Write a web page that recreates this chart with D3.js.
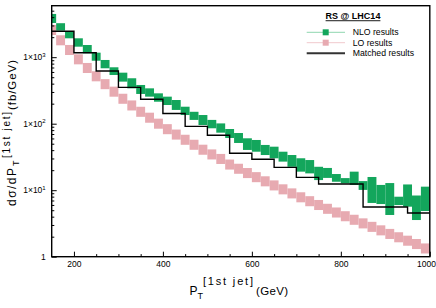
<!DOCTYPE html>
<html><head><meta charset="utf-8">
<script src="https://cdn.jsdelivr.net/npm/d3@7"></script>
<style>body{margin:0;background:#fff;overflow:hidden}svg{display:block}text{font-family:"Liberation Sans",Arial,sans-serif;fill:#000}</style>
</head><body><svg width="436" height="308"></svg>
<script>
// ---- data ----
const binCenters = [150,170,190,210,230,250,270,290,310,330,350,370,390,410,430,450,470,490,510,530,550,570,590,610,630,650,670,690,710,730,750,770,790,810,830,850,870,890,910,930,950,970,990];
const binHalfWidth = 10;
const nloLow  = [3266,2512,1923,1439,1146,885,681,540,429,340,280,255,214,191,161,135,114,95.5,85.3,73.3,61.0,51.3,40.3,37.9,33.8,30.2,26.9,22.5,19.0,17.9,14.2,15.3,13.4,12.7,12.0,10.1,6.43,6.19,4.24,5.98,5.65,3.56,4.86];
const nloHigh = [4467,3243,2415,1923,1524,1169,908,705,585,482,382,340,286,255,227,180,151,135,114,101,83.2,72.4,60.3,56.9,47.9,45.1,37.9,33.8,30.2,28.4,22.5,21.6,17.5,15.2,19.0,13.7,15.8,12.0,12.8,7.98,12.2,8.32,11.3];
const loVals  = [2566,1795,1283,929,688,516,393,303,237,188,151,123,100,82.7,68.6,57.3,48.2,40.6,34.5,29.5,24.3,21.0,18.1,15.7,13.6,11.8,10.3,8.95,7.82,6.83,5.99,5.25,4.62,4.06,3.59,3.17,2.81,2.49,2.20,1.96,1.74,1.55,1.33];
const loRelErr = 0.19;
const matchedEdges = [150,200,250,300,350,400,450,500,550,600,650,700,750,800,850,900,950,1000];
const matchedVals  = [2450,1169,620,352,233,142,91,67,35.9,29.2,22,15.6,12.4,12.4,5.6,5.6,4.55];
const xMajorTicks = [200,400,600,800,1000];
const xMinorTicks = [250,300,350,450,500,550,650,700,750,850,900,950];
const yMajorTicks = [1,10,100,1000];
const yTickExponents = [null,1,2,3];
const legendLabels = ["NLO results","LO results","Matched results"];
const legendTitle = "RS @ LHC14";

// ---- layout ----
const L = 51.7, R = 429.8, T = 5.7, B = 256.7;
const green = "#13a65c", pink = "#e7aab1";
const svg = d3.select("svg");
const x = d3.scaleLinear().domain([150,1000]).range([L,R]);
const y = d3.scaleLog().domain([1,5945]).range([B,T]);

svg.append("clipPath").attr("id","clip").append("rect")
  .attr("x",L).attr("y",T).attr("width",R-L).attr("height",B-T);
const plot = svg.append("g").attr("clip-path","url(#clip)");

// LO boxes
plot.append("g").selectAll("rect").data(binCenters).join("rect")
  .attr("x",d=>x(d-binHalfWidth)).attr("width",d=>x(d+binHalfWidth)-x(d-binHalfWidth))
  .attr("y",(d,i)=>y(loVals[i]*(1+loRelErr)))
  .attr("height",(d,i)=>y(loVals[i]/(1+loRelErr))-y(loVals[i]*(1+loRelErr)))
  .attr("fill",pink);
// NLO boxes
plot.append("g").selectAll("rect").data(binCenters).join("rect")
  .attr("x",d=>x(d-binHalfWidth)).attr("width",d=>x(d+binHalfWidth)-x(d-binHalfWidth))
  .attr("y",(d,i)=>y(nloHigh[i]))
  .attr("height",(d,i)=>y(nloLow[i])-y(nloHigh[i]))
  .attr("fill",green);
// matched histogram
const pts = matchedVals.map((v,i)=>[matchedEdges[i],v]);
pts.push([matchedEdges[matchedEdges.length-1], matchedVals[matchedVals.length-1]]);
plot.append("path").datum(pts)
  .attr("d",d3.line().x(d=>x(d[0])).y(d=>y(d[1])).curve(d3.curveStepAfter))
  .attr("fill","none").attr("stroke","#000").attr("stroke-width",1.4);

// axes
const gx = svg.append("g").attr("transform",`translate(0,${B})`);
gx.call(d3.axisBottom(x).tickValues(xMajorTicks).tickSize(-5).tickSizeOuter(0).tickPadding(4.5).tickFormat(d3.format("d")));
const gxm = svg.append("g").attr("transform",`translate(0,${B})`);
gxm.call(d3.axisBottom(x).tickValues(xMinorTicks).tickSize(-2.6).tickSizeOuter(0).tickFormat(""));
gx.selectAll("text").attr("font-size",8.5).attr("font-family","Liberation Sans, Arial, sans-serif");
// keep the last label inside the window (it sits at the right edge)
gx.selectAll(".tick").filter(d=>d===1000).select("text").attr("text-anchor","end").attr("x",436-x(1000)-0.5);

const gy = svg.append("g").attr("transform",`translate(${L},0)`);
gy.call(d3.axisLeft(y).tickValues(yMajorTicks).tickSize(-5).tickSizeOuter(0).tickPadding(6).tickFormat(""));
const minorY = [];
yMajorTicks.forEach(d=>{ for(let k=2;k<=9;k++){ if(d*k<5945) minorY.push(d*k);} });
const gym = svg.append("g").attr("transform",`translate(${L},0)`);
gym.call(d3.axisLeft(y).tickValues(minorY).tickSize(-2.6).tickSizeOuter(0).tickFormat(""));
[gx,gxm,gy,gym].forEach(g=>{g.select(".domain").remove(); g.selectAll("line").attr("stroke","#000").attr("stroke-width",1);});
gy.selectAll(".tick").each(function(d,i){
  const t = d3.select(this).append("text").attr("x",-6).attr("dy","0.32em")
    .attr("text-anchor","end").attr("font-size",8.5).attr("fill","#000");
  const e = yTickExponents[yMajorTicks.indexOf(d)];
  if(e===null){ t.text("1"); }
  else { t.append("tspan").text("1×10"); t.append("tspan").attr("font-size",6).attr("dy","-3.5").text(e); }
});

// frame
svg.append("rect").attr("x",L).attr("y",T).attr("width",R-L).attr("height",B-T)
  .attr("fill","none").attr("stroke","#000").attr("stroke-width",1.4);

// x title
const xt = svg.append("g");
xt.append("text").attr("x",189.5).attr("y",294.5).attr("font-size",12).text("P");
xt.append("text").attr("x",197.5).attr("y",298.5).attr("font-size",9).text("T");
xt.append("text").attr("x",203).attr("y",284.5).attr("font-size",11).attr("textLength",50).text("[1st jet]");
xt.append("text").attr("x",256).attr("y",294.5).attr("font-size",11.5).attr("textLength",32).text("(GeV)");

// y title
const yt = svg.append("g").attr("transform","rotate(-90)");
yt.append("text").attr("x",-206).attr("y",15.5).attr("font-size",12).attr("textLength",38).text("dσ/dP");
yt.append("text").attr("x",-166).attr("y",19).attr("font-size",9).text("T");
yt.append("text").attr("x",-158).attr("y",10).attr("font-size",10).attr("textLength",46).text("[1st jet]");
yt.append("text").attr("x",-110).attr("y",15.5).attr("font-size",11.5).attr("textLength",50).text("(fb/GeV)");

// legend
const lg = svg.append("g");
lg.append("text").attr("x",353).attr("y",19.3).attr("text-anchor","middle")
  .attr("font-family","DejaVu Serif, serif").attr("font-weight","bold").attr("font-size",9)
  .attr("text-decoration","underline").text(legendTitle);
const legY = [32.3,42.7,53.3];
const lineCols = ["#8fd6b0","#f1c9cd","#333"];
const markCols = [green,pink,null];
legendLabels.forEach((lab,i)=>{
  lg.append("line").attr("x1",306.7).attr("x2",345).attr("y1",legY[i]).attr("y2",legY[i])
    .attr("stroke",lineCols[i]).attr("stroke-width",i===2?2:1);
  if(markCols[i]) lg.append("rect").attr("x",322.7).attr("y",legY[i]-3).attr("width",6).attr("height",6).attr("fill",markCols[i]);
  lg.append("text").attr("x",352.7).attr("y",legY[i]+3).attr("font-size",8.7).text(lab);
});
</script></body></html>
